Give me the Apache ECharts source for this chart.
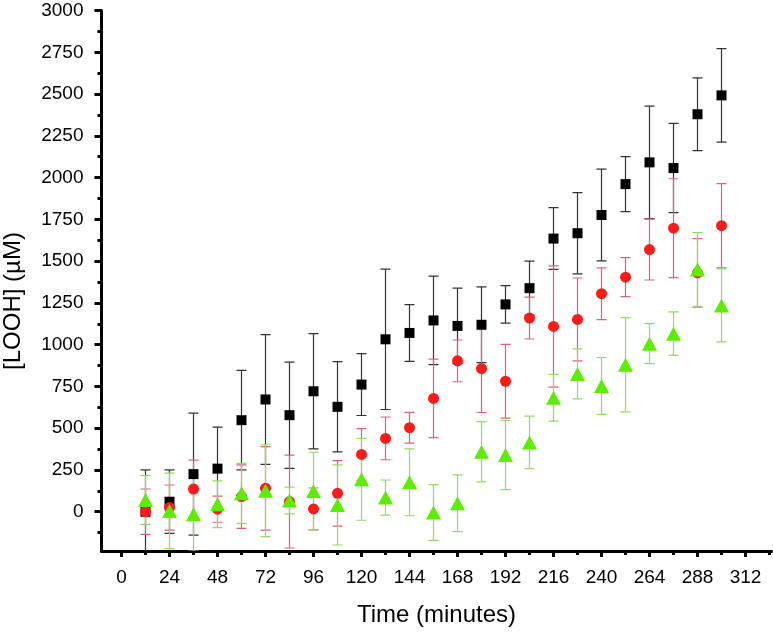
<!DOCTYPE html>
<html>
<head>
<meta charset="utf-8">
<script src="https://cdn.jsdelivr.net/npm/echarts@6/dist/echarts.min.js"></script>
<style>
html,body{margin:0;padding:0;background:#fff;}
#chart{width:773px;height:632px;}
</style>
</head>
<body>
<div id="chart"></div>
<script>
var times = [12,24,36,48,60,72,84,96,108,120,132,144,156,168,180,192,204,216,228,240,252,264,276,288,300];
var blackMean = [0,60,225,258,548,672,578,721,628,761,1032,1070,1145,1112,1119,1241,1338,1635,1667,1776,1961,2091,2057,2379,2492];
var blackErr  = [250,190,365,248,298,388,318,345,270,185,420,170,265,226,227,112,162,185,243,275,165,337,267,218,280];
var redMean = [0,25,136,15,91,140,61,17,110,343,439,503,678,903,857,781,1159,1109,1151,1305,1404,1569,1697,1430,1712];
var redErr  = [136,135,173,78,190,250,278,125,196,155,128,92,235,125,263,221,125,363,248,155,117,182,296,205,252];
var greenMean = [70,5,-15,45,110,126,67,124,41,194,85,176,-5,51,359,339,415,682,825,753,880,1006,1066,1450,1235];
var greenErr  = [146,226,220,140,180,275,80,232,240,245,105,200,167,170,180,207,157,140,150,170,282,120,130,220,218];

var xTickLabels = [0,24,48,72,96,120,144,168,192,216,240,264,288,312];
var xMinorTicks = [12,36,60,84,108,132,156,180,204,228,252,276,300,324];
var yTickLabels = [0,250,500,750,1000,1250,1500,1750,2000,2250,2500,2750,3000];
var yMinorTicks = [-125,125,375,625,875,1125,1375,1625,1875,2125,2375,2625,2875];

var FONT = 'Liberation Sans, Arial, sans-serif';

function pts(mean){ return times.map(function(t,i){ return [t, mean[i]]; }); }
function bars(mean, err){ return times.map(function(t,i){ return [t, mean[i]-err[i], mean[i]+err[i]]; }); }

function errSeries(mean, err, color){
  return {
    type:'custom',
    data: bars(mean, err),
    encode:{x:0, y:[1,2]},
    silent:true,
    clip:true,
    renderItem:function(params, api){
      var x = api.value(0);
      var top = api.coord([x, api.value(2)]);
      var bot = api.coord([x, api.value(1)]);
      var hw = 5;
      var st = {stroke:color, lineWidth:1.2};
      return {type:'group', children:[
        {type:'line', shape:{x1:top[0], y1:top[1], x2:bot[0], y2:bot[1]}, style:st},
        {type:'line', shape:{x1:top[0]-hw, y1:top[1], x2:top[0]+hw, y2:top[1]}, style:st},
        {type:'line', shape:{x1:bot[0]-hw, y1:bot[1], x2:bot[0]+hw, y2:bot[1]}, style:st}
      ]};
    }
  };
}

var axisLineStyle = {color:'#000', width:3};
function plain(v){ return String(v); }

var option = {
  animation:false,
  backgroundColor:'#fff',
  grid:{left:101.5, right:1.5, top:10.5, bottom:78.5},
  xAxis:[{
    type:'value', min:-10, max:325,
    name:'Time (minutes)', nameLocation:'middle', nameGap:52,
    nameTextStyle:{fontFamily:FONT, fontSize:24, color:'#000'},
    axisLine:{show:true, onZero:false, lineStyle:axisLineStyle},
    axisTick:{show:true, customValues:xTickLabels, length:6, lineStyle:{color:'#000', width:3}},
    axisLabel:{customValues:xTickLabels, formatter:plain, fontFamily:FONT, fontSize:19, color:'#000', margin:17},
    splitLine:{show:false}
  },{
    type:'value', min:-10, max:325, position:'bottom',
    axisLine:{show:false, onZero:false},
    axisTick:{show:true, customValues:xMinorTicks, length:4, lineStyle:{color:'#000', width:3}},
    axisLabel:{show:false},
    splitLine:{show:false}
  }],
  yAxis:[{
    type:'value', min:-235, max:3000,
    axisLine:{show:true, onZero:false, lineStyle:axisLineStyle},
    axisTick:{show:true, customValues:yTickLabels, length:7, lineStyle:{color:'#000', width:3}},
    axisLabel:{customValues:yTickLabels, formatter:plain, fontFamily:FONT, fontSize:19, color:'#000', margin:18},
    splitLine:{show:false}
  },{
    type:'value', min:-235, max:3000, position:'left',
    axisLine:{show:false, onZero:false},
    axisTick:{show:true, customValues:yMinorTicks, length:4, lineStyle:{color:'#000', width:3}},
    axisLabel:{show:false},
    splitLine:{show:false}
  }],
  graphic:[{
    type:'text', x:13, y:301, rotation:Math.PI/2,
    style:{text:'[LOOH] (µM)', font:'24px ' + FONT, fill:'#000', align:'center', verticalAlign:'middle'}
  }],
  series:[
    errSeries(blackMean, blackErr, '#333333'),
    {type:'scatter', data:pts(blackMean), symbol:'rect', symbolSize:10, itemStyle:{color:'#000', opacity:1}},
    errSeries(redMean, redErr, '#e0607a'),
    {type:'scatter', data:pts(redMean), symbol:'circle', symbolSize:11, itemStyle:{color:'#ff1a1a', opacity:1}},
    errSeries(greenMean, greenErr, '#8ee05a'),
    {type:'scatter', data:pts(greenMean), symbol:'triangle', symbolSize:[15,14], itemStyle:{color:'#5ded00', opacity:1}}
  ]
};

var chart = echarts.init(document.getElementById('chart'), null, {renderer:'canvas'});
chart.setOption(option);
</script>
</body>
</html>
